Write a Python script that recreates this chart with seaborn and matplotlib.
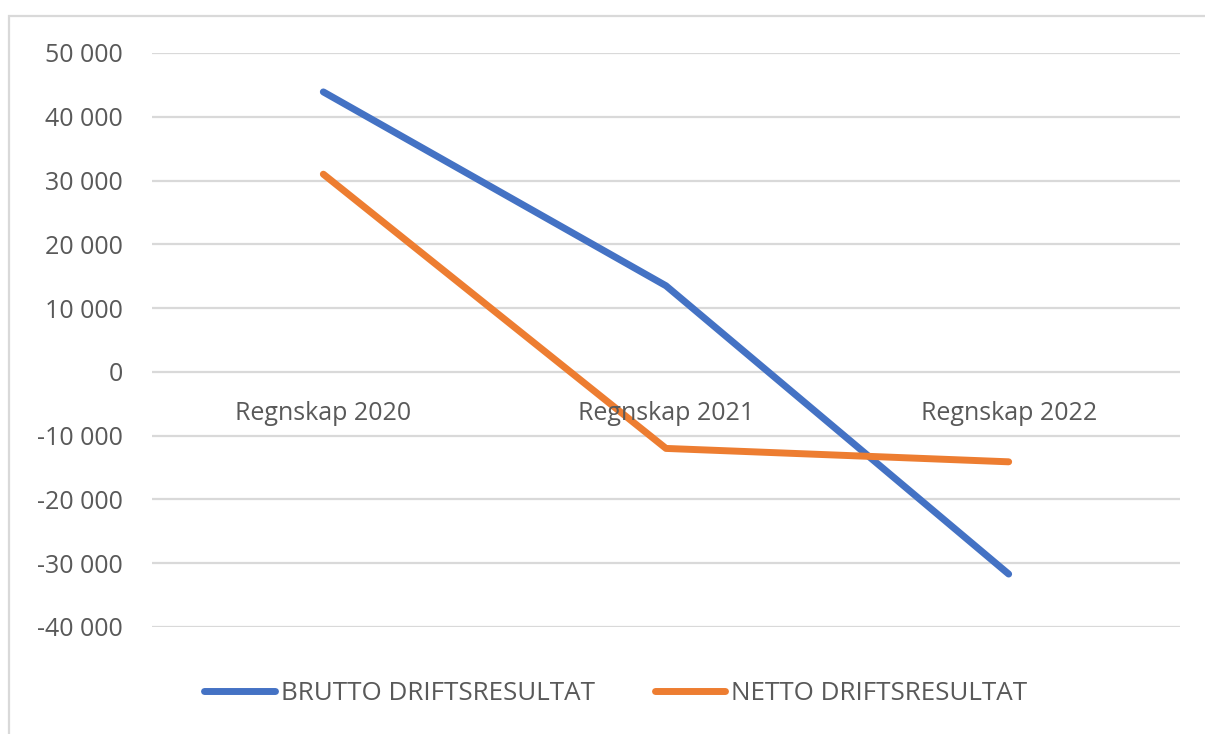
import matplotlib
matplotlib.use("Agg")
import matplotlib.pyplot as plt
import matplotlib.patches as mpatches
from matplotlib.ticker import FuncFormatter, MultipleLocator
import seaborn as sns
import pandas as pd

categories = ["Regnskap 2020", "Regnskap 2021", "Regnskap 2022"]
brutto = [43900, 13500, -31700]
netto = [31000, -12000, -14100]
series_names = ["BRUTTO DRIFTSRESULTAT", "NETTO DRIFTSRESULTAT"]
colors = ["#4472C4", "#ED7D31"]

df = pd.DataFrame({
    "cat": categories * 2,
    "value": brutto + netto,
    "series": [series_names[0]] * 3 + [series_names[1]] * 3,
})

sns.set_theme(style="white")
plt.rcParams["font.family"] = ["Open Sans", "DejaVu Sans"]
TXT = "#595959"

fig = plt.figure(figsize=(12.05, 7.34), dpi=100)
ax = fig.add_axes([152 / 1205, 1 - 627 / 734, (1180 - 152) / 1205, (627 - 53) / 734])

# chart border
fig.patches.append(mpatches.Rectangle((9 / 1205, -0.2), 1.2, 1 - 16 / 734 + 0.2,
                                      transform=fig.transFigure, fill=False,
                                      edgecolor="#d9d9d9", linewidth=1.6, zorder=0))

sns.lineplot(data=df, x="cat", y="value", hue="series", palette=colors,
             linewidth=5, ax=ax, sort=False, legend=True)
for ln in ax.lines:
    ln.set_solid_capstyle("round")
    ln.set_solid_joinstyle("round")

ax.set_ylim(-40000, 50000)
ax.set_xlim(-0.5, len(categories) - 0.5)
ax.yaxis.set_major_locator(MultipleLocator(10000))
ax.yaxis.set_major_formatter(FuncFormatter(lambda v, p: f"{v:,.0f}".replace(",", " ")))
ax.grid(axis="y", color="#d9d9d9", linewidth=1.6)
ax.set_axisbelow(True)
for s in ax.spines.values():
    s.set_visible(False)
ax.tick_params(axis="y", length=0, pad=21, labelsize=18, labelcolor=TXT)
ax.set_xticks([])
ax.set_xlabel("")
ax.set_ylabel("")

for i, c in enumerate(categories):
    ax.annotate(c, xy=(i, 0), xytext=(0, -35), textcoords="offset points",
                ha="center", va="baseline", fontsize=18, color=TXT)

handles, labels = ax.get_legend_handles_labels()
ax.get_legend().remove()
for h in handles:
    h.set_solid_capstyle("round")
    h.set_linewidth(5)
fig.legend(handles, labels, loc="center", bbox_to_anchor=(616 / 1205, 1 - 694 / 734),
           ncol=2, frameon=False, fontsize=18.7, labelcolor=TXT,
           handlelength=2.7, handletextpad=0.25, columnspacing=2.3)

fig.savefig("out.png", dpi=100, facecolor="white")
